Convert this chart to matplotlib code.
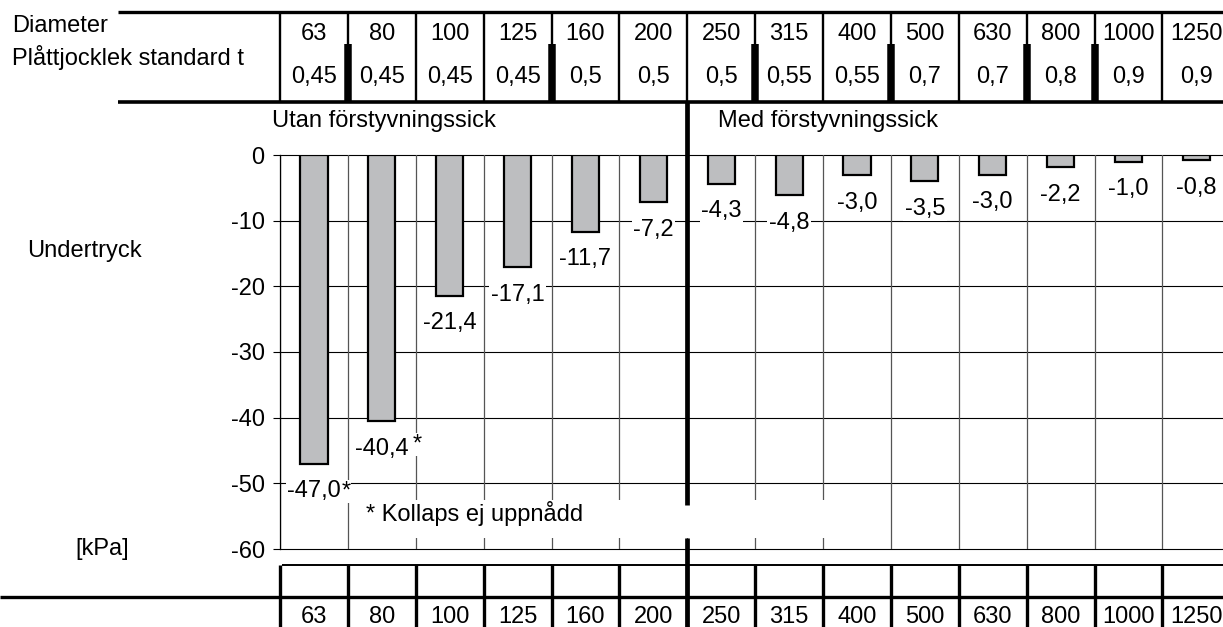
import matplotlib
matplotlib.use("Agg")
import matplotlib.pyplot as plt
from matplotlib.lines import Line2D
from matplotlib.patches import Rectangle
from matplotlib.transforms import blended_transform_factory

plt.rcParams['font.family'] = ['Liberation Sans', 'DejaVu Sans']
plt.rcParams['axes.unicode_minus'] = False

# ---- data ----
diameters = ["63", "80", "100", "125", "160", "200", "250", "315", "400", "500", "630", "800", "1000", "1250"]
thickness = ["0,45", "0,45", "0,45", "0,45", "0,5", "0,5", "0,5", "0,55", "0,55", "0,7", "0,7", "0,8", "0,9", "0,9"]
values = [-47.0, -40.5, -21.4, -17.1, -11.7, -7.2, -4.4, -6.1, -3.1, -4.0, -3.0, -1.9, -1.0, -0.8]
value_labels = ["-47,0", "-40,4", "-21,4", "-17,1", "-11,7", "-7,2", "-4,3", "-4,8", "-3,0", "-3,5", "-3,0", "-2,2", "-1,0", "-0,8"]
notes = ["*", "*", "", "", "", "", "", "", "", "", "", "", "", ""]
yticks = [0, -10, -20, -30, -40, -50, -60]
thick_after = [0, 3, 6, 8, 10, 11]   # table cells followed by a thick separator
group_split = 6                      # first index with förstyvningssick

W, H = 1223, 627
FS = 17
fig = plt.figure(figsize=(W / 100, H / 100), dpi=100)
fig.patch.set_facecolor('white')

def fy(py):
    return 1 - py / H

colw = 67.88
ax_left, ax_top, ax_bot = 280, 155, 549
ax = fig.add_axes([ax_left / W, fy(ax_bot), 14 * colw / W, (ax_bot - ax_top) / H])
n = len(values)
xs = list(range(n))
ax.set_xlim(-0.5, n - 0.5)
ax.set_ylim(-60, 0)

ax.bar(xs, values, width=0.4, color='#bdbec0', edgecolor='black', linewidth=1.6, zorder=3)

# grid
for y in yticks:
    ax.axhline(y, color='black', lw=0.8, zorder=1, clip_on=False)
for k in range(n + 1):
    ax.axvline(k - 0.5, color='#555555', lw=0.9, zorder=1)

for s in ['top', 'right', 'bottom']:
    ax.spines[s].set_visible(False)
ax.spines['left'].set_linewidth(0.9)
ax.spines['left'].set_zorder(5)
ax.set_xticks([])
ax.set_yticks(yticks)
ax.set_yticklabels([str(t) for t in yticks], fontsize=FS)
ax.tick_params(axis='y', direction='out', length=5, width=0.8, pad=6)

# value labels
for i, (v, lab, note) in enumerate(zip(values, value_labels, notes)):
    ax.text(i, v - 4.2, lab, ha='center', va='center', fontsize=FS, zorder=4,
            bbox=dict(fc='white', ec='none', pad=1.0))
    if note:
        dx = 23 if i == 0 else 25.5
        dy = 0 if i == 0 else 3
        ax.annotate(note, xy=(i, v - 4.2), xytext=(dx, dy), textcoords='offset points',
                    ha='center', va='center', fontsize=FS, zorder=4,
                    bbox=dict(fc='white', ec='none', pad=0.5))

bt = blended_transform_factory(ax.transData, fig.transFigure)

def fline(x0, x1, y0, y1, lw, color='black', transform=None, z=3):
    fig.add_artist(Line2D([x0, x1], [y0, y1], lw=lw, color=color,
                          transform=transform if transform is not None else fig.transFigure,
                          zorder=z, solid_capstyle='butt'))

# ---- top table ----
fline(118 / W, 1.0, fy(12), fy(12), 2.4)
fline(118 / W, 1.0, fy(102), fy(102), 2.6)
for k in range(n):
    fline(k - 0.5, k - 0.5, fy(12), fy(102), 1.7, transform=bt)
for k in thick_after:
    fline(k + 0.5, k + 0.5, fy(44), fy(102), 5.4, transform=bt)
for i in range(n):
    fig.text(i, fy(40), diameters[i], transform=bt, ha='center', va='baseline', fontsize=FS)
    fig.text(i, fy(83), thickness[i], transform=bt, ha='center', va='baseline', fontsize=FS)
fig.text(12 / W, fy(32), "Diameter", ha='left', va='baseline', fontsize=FS)
fig.text(12 / W, fy(65), "Plåttjocklek standard t", ha='left', va='baseline', fontsize=FS)

fig.text(272 / W, fy(127), "Utan förstyvningssick", ha='left', va='baseline', fontsize=FS)
fig.text(718 / W, fy(127), "Med förstyvningssick", ha='left', va='baseline', fontsize=FS)
fig.text(27 / W, fy(257), "Undertryck", ha='left', va='baseline', fontsize=FS)
fig.text(75 / W, fy(555), "[kPa]", ha='left', va='baseline', fontsize=FS)

# footnote box
fig.add_artist(Rectangle((352 / W, fy(538)), (860 - 352) / W, 38 / H, transform=fig.transFigure,
                         fc='white', ec='none', zorder=1))
fig.text(366 / W, fy(521.5), "* Kollaps ej uppnådd", ha='left', va='baseline', fontsize=FS, zorder=2)

# group divider
sx = group_split - 0.5
fline(sx, sx, fy(102), fy(505), 3.4, transform=bt)
fline(sx, sx, fy(538), fy(627), 3.4, transform=bt)

# ---- bottom table ----
fline(282 / W, 1.0, fy(565), fy(565), 1.4)
fline(0, 1.0, fy(597), fy(597), 2.4)
for k in range(n):
    fline(k - 0.5, k - 0.5, fy(565), fy(627), 2.4, transform=bt)
for i in range(n):
    fig.text(i, fy(623), diameters[i], transform=bt, ha='center', va='baseline', fontsize=FS)

fig.savefig("out.png", dpi=100, facecolor='white')
